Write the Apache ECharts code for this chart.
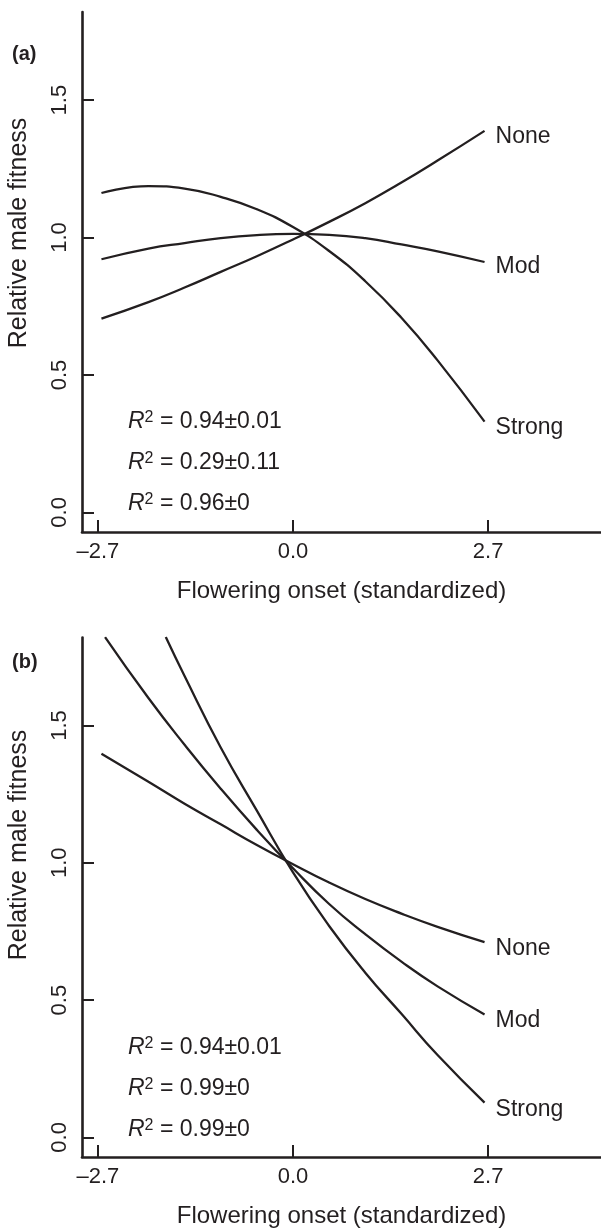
<!DOCTYPE html>
<html><head><meta charset="utf-8">
<script src="https://cdn.jsdelivr.net/npm/echarts@6/dist/echarts.min.js"></script>
<style>html,body{margin:0;padding:0;background:#fff}#c{width:601px;height:1229px}</style>
</head><body><div id="c"></div>
<script>
const FONT = "'Liberation Sans', Arial, Helvetica, sans-serif";
const INK = '#231f20';

// ticks
const xTicks = [-2.7, 0, 2.7];
const xTickLabels = ['\u20132.7', '0.0', '2.7'];
const yTicks = [0, 0.5, 1.0, 1.5];
const yTickLabels = ['0.0', '0.5', '1.0', '1.5'];
const seriesNames = ['None', 'Mod', 'Strong'];
const panelLabels = ['(a)', '(b)'];
const xTitle = 'Flowering onset (standardized)';
const yTitle = 'Relative male fitness';

// panel (a)
const xA = [-2.65, -2.0, -1.5, -1.0, -0.5, 0, 0.5, 1.0, 1.5, 2.0, 2.65];
const noneA = [0.705, 0.765, 0.818, 0.875, 0.932, 0.993, 1.057, 1.125, 1.200, 1.280, 1.388];
const modA = [0.921, 0.960, 0.980, 0.998, 1.009, 1.013, 1.010, 0.998, 0.975, 0.950, 0.911];
const strongA = [1.162, 1.187, 1.178, 1.148, 1.103, 1.038, 0.951, 0.841, 0.708, 0.553, 0.330];
const r2A = ['0.94\u00b10.01', '0.29\u00b10.11', '0.96\u00b10'];

// panel (b)
const xBnone = [-2.65, -2.0, -1.5, -1.0, -0.5, 0, 0.5, 1.0, 1.5, 2.0, 2.65];
const noneB = [1.397, 1.295, 1.215, 1.140, 1.065, 0.995, 0.928, 0.868, 0.815, 0.767, 0.711];
const xBmod = [-2.6, -2.0, -1.5, -1.0, -0.5, 0, 0.5, 1.0, 1.5, 2.0, 2.65];
const modB = [1.822, 1.600, 1.430, 1.270, 1.120, 0.980, 0.850, 0.740, 0.640, 0.550, 0.448];
const xBstrong = [-1.76, -1.5, -1.0, -0.5, 0, 0.5, 1.0, 1.5, 2.0, 2.65];
const strongB = [1.822, 1.680, 1.420, 1.190, 0.965, 0.770, 0.600, 0.450, 0.300, 0.127];
const r2B = ['0.94\u00b10.01', '0.99\u00b10', '0.99\u00b10'];

const pairs = (xs, ys) => xs.map((x, i) => [x, ys[i]]);
const lookup = (ticks, labels) => v => {
  for (let i = 0; i < ticks.length; i++) if (Math.abs(ticks[i] - v) < 1e-6) return labels[i];
  return '';
};

const grids = [
  { left: 82, right: 0, top: 12, height: 520 },
  { left: 82, right: 0, top: 637.5, height: 520 }
];

function mkX(gi) {
  return {
    type: 'value', gridIndex: gi, min: -2.919, max: 4.261,
    axisLine: { show: true, onZero: false, lineStyle: { color: INK, width: 2.6 } },
    axisTick: { show: true, inside: true, length: 12, customValues: xTicks, lineStyle: { color: INK, width: 2 } },
    axisLabel: { customValues: xTicks, formatter: lookup(xTicks, xTickLabels), color: INK, fontSize: 22, lineHeight: 22, fontFamily: FONT, margin: 9 },
    splitLine: { show: false },
    name: xTitle, nameLocation: 'middle', nameGap: 47,
    nameTextStyle: { color: INK, fontSize: 24, lineHeight: 24, fontFamily: FONT }
  };
}
function mkY(gi) {
  return {
    type: 'value', gridIndex: gi, min: -0.0713, max: 1.8205,
    axisLine: { show: true, onZero: false, lineStyle: { color: INK, width: 2.6 } },
    axisTick: { show: true, inside: true, length: 12, customValues: yTicks, lineStyle: { color: INK, width: 2 } },
    axisLabel: { customValues: yTicks, formatter: lookup(yTicks, yTickLabels), rotate: 90, color: INK, fontSize: 22, lineHeight: 22, fontFamily: FONT, margin: 11 },
    splitLine: { show: false }
  };
}

function mkSeries(name, data, gi, off) {
  return {
    type: 'line', name: name, data: data, xAxisIndex: gi, yAxisIndex: gi,
    showSymbol: false, symbol: 'none', smooth: 0.5, clip: true,
    lineStyle: { color: INK, width: 2.3 },
    endLabel: { show: true, formatter: name, color: INK, fontSize: 23, fontFamily: FONT, distance: 11, offset: [0, off] },
    emphasis: { disabled: true }, silent: true, animation: false
  };
}

const r2Graphic = (lines, top) => lines.map((t, i) => ({
  type: 'text', left: 128, top: top + i * 41,
  style: {
    text: '{i|R}{s|2}{n| = ' + t + '}',
    fill: INK, font: '23px ' + FONT, lineHeight: 23,
    rich: {
      i: { fontStyle: 'italic', fontSize: 23, fontFamily: FONT, fill: INK, lineHeight: 23, verticalAlign: 'middle' },
      s: { fontSize: 16, fontFamily: FONT, fill: INK, lineHeight: 11, verticalAlign: 'top' },
      n: { fontSize: 23, fontFamily: FONT, fill: INK, lineHeight: 23, verticalAlign: 'middle' }
    }
  }
}));

const graphic = [
  { type: 'text', left: 12, top: 44, style: { text: panelLabels[0], fill: INK, font: 'bold 20px ' + FONT } },
  { type: 'text', left: 12, top: 652, style: { text: panelLabels[1], fill: INK, font: 'bold 20px ' + FONT } },
  { type: 'text', x: 19, y: 233, rotation: Math.PI / 2, style: { text: yTitle, fill: INK, font: '25px ' + FONT, align: 'center', verticalAlign: 'middle' } },
  { type: 'text', x: 19, y: 845, rotation: Math.PI / 2, style: { text: yTitle, fill: INK, font: '25px ' + FONT, align: 'center', verticalAlign: 'middle' } }
].concat(r2Graphic(r2A, 410)).concat(r2Graphic(r2B, 1036));

const chart = echarts.init(document.getElementById('c'), null, { renderer: 'canvas' });
chart.setOption({
  backgroundColor: '#fff',
  animation: false,
  grid: grids,
  xAxis: [mkX(0), mkX(1)],
  yAxis: [mkY(0), mkY(1)],
  series: [
    mkSeries(seriesNames[0], pairs(xA, noneA), 0, 6),
    mkSeries(seriesNames[1], pairs(xA, modA), 0, 5),
    mkSeries(seriesNames[2], pairs(xA, strongA), 0, 6),
    mkSeries(seriesNames[0], pairs(xBnone, noneB), 1, 6),
    mkSeries(seriesNames[1], pairs(xBmod, modB), 1, 6),
    mkSeries(seriesNames[2], pairs(xBstrong, strongB), 1, 7)
  ],
  graphic: graphic
});
</script>
</body></html>
